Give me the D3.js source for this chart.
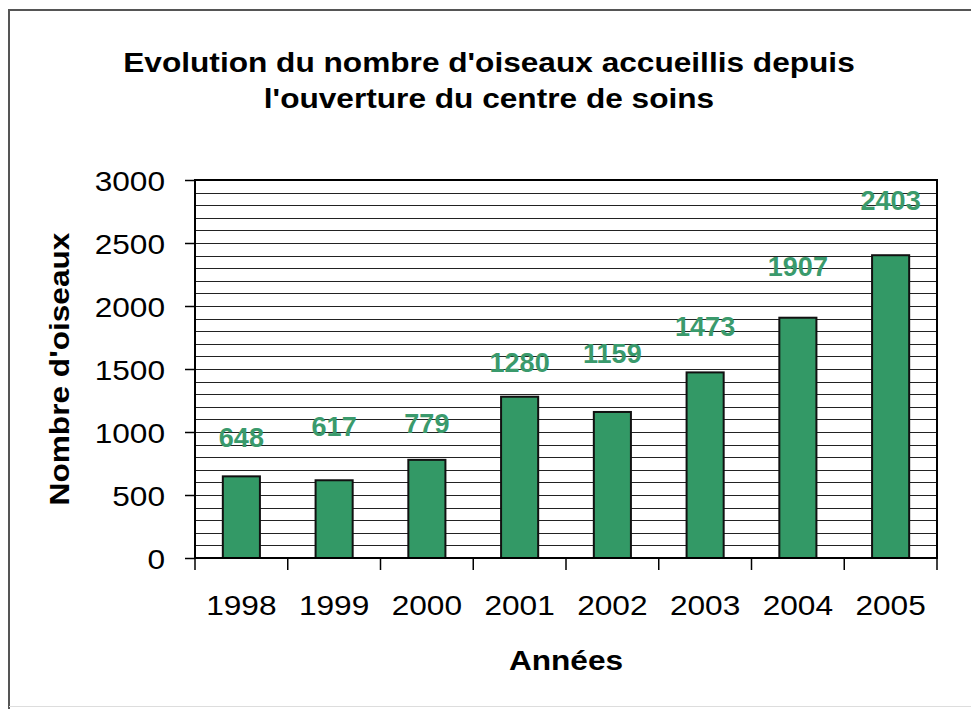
<!DOCTYPE html>
<html>
<head>
<meta charset="utf-8">
<script src="https://cdn.jsdelivr.net/npm/d3@7"></script>
<style>
  body { margin: 0; background: #fff; }
  text { font-family: "Liberation Sans", Arial, sans-serif; }
</style>
</head>
<body>
<svg width="971" height="709"></svg>
<script>
// données
const years = ["1998", "1999", "2000", "2001", "2002", "2003", "2004", "2005"];
const birds = [648, 617, 779, 1280, 1159, 1473, 1907, 2403];
const yTicks = [0, 500, 1000, 1500, 2000, 2500, 3000];

const titleLines = ["Evolution du nombre d'oiseaux accueillis depuis", "l'ouverture du centre de soins"];
const xTitle = "Années";
const yTitle = "Nombre d'oiseaux";

const BAR_COLOR = "#339966";
const LABEL_COLOR = "#3a9a6c";
const FONT = "Liberation Sans, Arial, sans-serif";
const SX = 1.13;	// le texte de l'original est un peu étiré en largeur

// décalage des étiquettes au-dessus des barres (placées à la main dans l'original)
const labelLift = [39, 54, 37, 34, 59, 46, 51, 55];

let svg = d3.select("svg");

// cadre extérieur
svg.append("path")
	.attr("d", "M9,709 L9,10 L975,10")
	.attr("fill", "none")
	.attr("stroke", "#555")
	.attr("stroke-width", 2);
svg.append("line")
	.attr("x1", 9).attr("x2", 971)
	.attr("y1", 706.5).attr("y2", 706.5)
	.attr("stroke", "#ddd");

const plot = { left: 195, right: 937, top: 180, bottom: 558 };

let x = d3.scaleBand()
	.domain(years)
	.range([plot.left, plot.right])
	.paddingInner(0.6)
	.paddingOuter(0.3);

let y = d3.scaleLinear()
	.domain([0, 3000])
	.range([plot.bottom, plot.top]);

// texte étiré : position puis échelle horizontale
function stretched(g, px, py, size, bold, anchor, rot) {
	return g.append("text")
		.attr("transform", "translate(" + px + "," + py + ")" + (rot ? " rotate(" + rot + ")" : "") + " scale(" + SX + ",1)")
		.attr("text-anchor", anchor || "middle")
		.attr("font-size", size)
		.attr("font-weight", bold ? "bold" : "normal")
		.attr("fill", "#000");
}

// quadrillage tous les 100
svg.append("g")
	.selectAll("line")
	.data(y.ticks(30))
	.join("line")
	.attr("x1", plot.left)
	.attr("x2", plot.right)
	.attr("y1", d => Math.round(y(d)) + 0.5)
	.attr("y2", d => Math.round(y(d)) + 0.5)
	.attr("stroke", "#222")
	.attr("stroke-width", 1);

// barres
svg.append("g")
	.selectAll("rect")
	.data(birds)
	.join("rect")
	.attr("x", (d, i) => x(years[i]))
	.attr("y", d => y(d))
	.attr("width", x.bandwidth())
	.attr("height", d => y(0) - y(d))
	.attr("fill", BAR_COLOR)
	.attr("stroke", "#111")
	.attr("stroke-width", 2);

// cadre de la zone de tracé
svg.append("rect")
	.attr("x", plot.left)
	.attr("y", plot.top)
	.attr("width", plot.right - plot.left)
	.attr("height", plot.bottom - plot.top)
	.attr("fill", "none")
	.attr("stroke", "#000")
	.attr("stroke-width", 2);

// axe Y
let yAxis = svg.append("g")
	.attr("transform", "translate(" + plot.left + ",0)")
	.call(d3.axisLeft(y).tickValues(yTicks).tickFormat(d3.format("d")).tickSize(10));
yAxis.select(".domain").remove();
yAxis.selectAll(".tick line").attr("stroke", "#000").attr("stroke-width", 1.5);
yAxis.selectAll(".tick text")
	.attr("x", -30 / SX)
	.attr("dy", "0.36em")
	.attr("transform", "scale(" + SX + ",1)")
	.attr("fill", "#000")
	.attr("font-size", 28)
	.attr("font-family", FONT);

// axe X : traits entre les catégories
let step = x.step();
svg.append("g")
	.selectAll("line")
	.data(d3.range(years.length + 1))
	.join("line")
	.attr("x1", i => plot.left + i * step)
	.attr("x2", i => plot.left + i * step)
	.attr("y1", plot.bottom)
	.attr("y2", plot.bottom + 12)
	.attr("stroke", "#000")
	.attr("stroke-width", 1.5);

let xLabels = svg.append("g");
years.forEach(d => {
	stretched(xLabels, x(d) + x.bandwidth() / 2, 615, 28, false).text(d);
});

// étiquettes de valeurs
svg.append("g")
	.selectAll("text")
	.data(birds)
	.join("text")
	.attr("x", (d, i) => x(years[i]) + x.bandwidth() / 2)
	.attr("y", (d, i) => y(d) - labelLift[i])
	.attr("dy", "0.36em")
	.attr("text-anchor", "middle")
	.attr("font-size", 27)
	.attr("font-weight", "bold")
	.attr("fill", LABEL_COLOR)
	.text(d => d);

// titre
let title = svg.append("g");
titleLines.forEach((d, i) => {
	stretched(title, 489, 72 + i * 36, 28, true).text(d);
});

// titres des axes
stretched(svg, 566, 670, 28, true).text(xTitle);
stretched(svg, 69, (plot.top + plot.bottom) / 2, 28, true, "middle", -90).text(yTitle);
</script>
</body>
</html>
